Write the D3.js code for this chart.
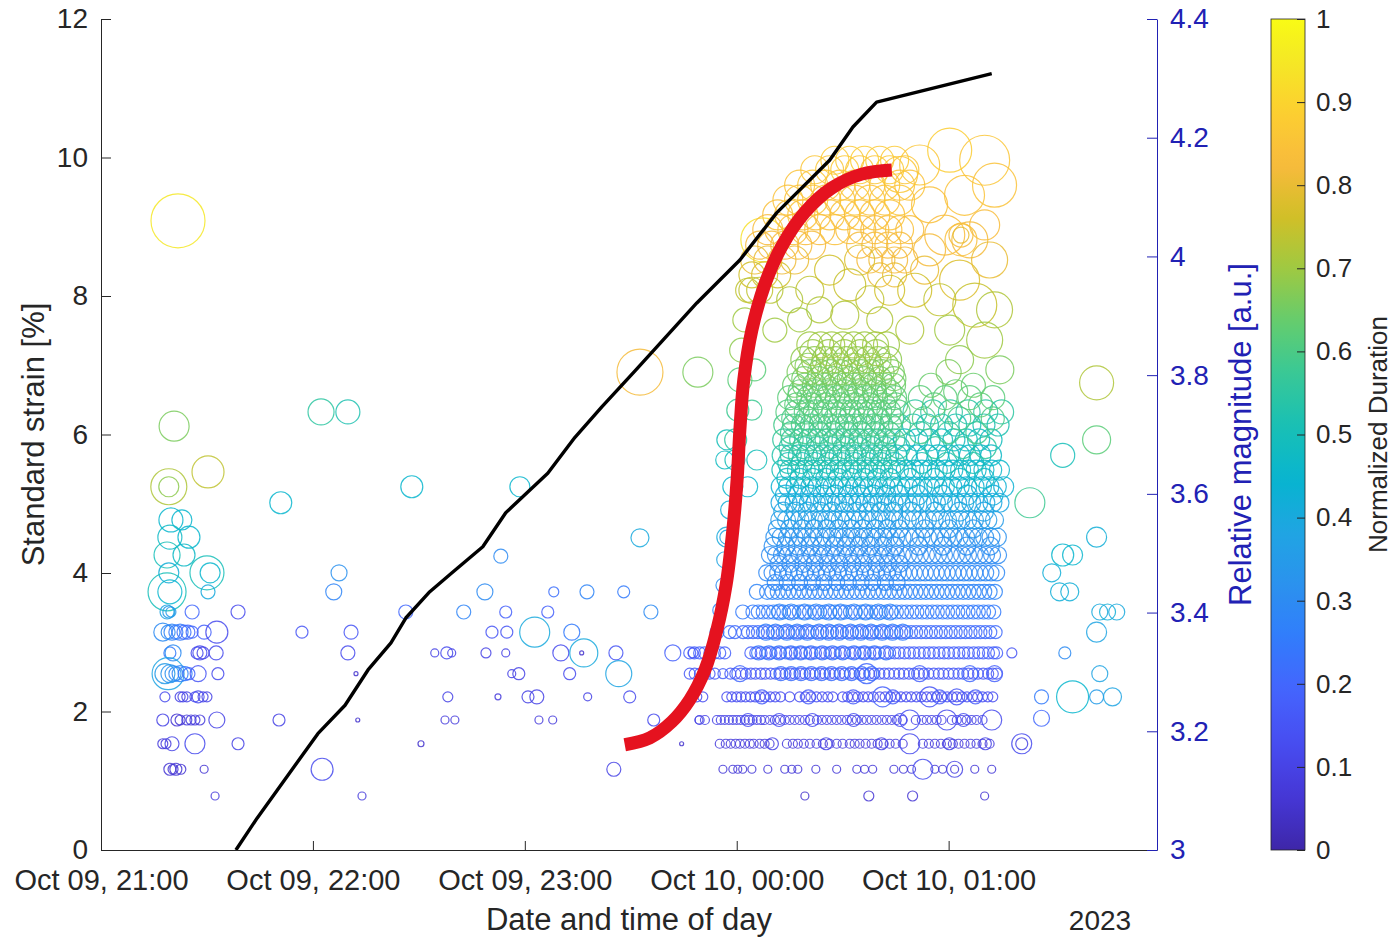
<!DOCTYPE html>
<html>
<head>
<meta charset="utf-8">
<style>
  body { margin: 0; background: #fff; }
  text { font-family: "Liberation Sans", Arial, Helvetica, sans-serif; }
</style>
</head>
<body>
<script src="https://cdn.jsdelivr.net/npm/d3@7"></script>
<script>

// ---- data ----
// black curve: standard strain vs time (minutes after Oct 09 21:00)
var strainMin = [38.2, 44.2, 61.4, 69.1, 75.6, 82.1, 86.3, 93.1, 99.3, 108.1, 114.6, 126.5, 134.2, 141.8, 151.4, 168.7, 180.9, 191.3, 206.3, 212.9, 219.6, 252.2];
var strainVal = [0, 0.46, 1.68, 2.09, 2.60, 2.99, 3.35, 3.73, 4.00, 4.38, 4.87, 5.44, 5.96, 6.40, 6.93, 7.90, 8.52, 9.20, 9.96, 10.44, 10.80, 11.21];

// red annotation stroke (minutes, strain units)
var markMin = [148.3, 155.4, 161.6, 166.7, 171.0, 174.4, 177.0, 178.9, 180.1, 180.9, 182.0, 184.3, 187.9, 193.0, 199.3, 206.9, 215.4, 223.9];
var markVal = [1.52, 1.62, 1.85, 2.17, 2.60, 3.18, 3.83, 4.62, 5.34, 6.07, 6.79, 7.51, 8.16, 8.74, 9.21, 9.56, 9.76, 9.82];

var strainTicks = [0, 2, 4, 6, 8, 10, 12];
var magTicks = [3, 3.2, 3.4, 3.6, 3.8, 4, 4.2, 4.4];
var durTicks = [0, 0.1, 0.2, 0.3, 0.4, 0.5, 0.6, 0.7, 0.8, 0.9, 1];
var hourTicks = [0, 60, 120, 180, 240];

// single events: [minute, magnitude, normalized duration, marker size]
var events = [
  // early cluster ~21:20
  [21.8,4.060,0.95,27],[20.7,3.714,0.66,15],[19.2,3.612,0.72,18],[19.2,3.612,0.68,10],[30.3,3.637,0.74,16],
  [19.8,3.556,0.45,12],[22.9,3.556,0.45,10],[19.5,3.527,0.47,12],[24.9,3.527,0.45,11],
  [18.7,3.497,0.50,13],[23.5,3.497,0.47,11],[19.2,3.467,0.42,10],[30.0,3.467,0.50,17],[30.9,3.467,0.45,10],
  [18.7,3.435,0.50,19],[19.5,3.435,0.45,12],[30.3,3.435,0.40,7],
  [18.7,3.401,0.38,7],[19.2,3.401,0.35,6],[19.8,3.401,0.35,5],[25.8,3.401,0.20,7],[38.8,3.401,0.12,7],
  [17.5,3.367,0.30,9],[19.0,3.367,0.30,7],[20.1,3.367,0.28,8],[21.2,3.367,0.25,7],[22.4,3.367,0.25,8],[23.5,3.367,0.22,7],[24.6,3.367,0.20,7],[25.8,3.367,0.20,6],[29.2,3.367,0.18,7],[32.8,3.367,0.12,11],
  [19.5,3.332,0.25,6],[20.4,3.332,0.30,8],[27.2,3.332,0.12,6],[28.0,3.332,0.12,7],[28.9,3.332,0.10,6],[32.6,3.332,0.12,7],
  [18.1,3.297,0.35,10],[19.0,3.297,0.38,16],[19.5,3.297,0.33,9],[20.4,3.297,0.32,8],[21.2,3.297,0.30,7],[22.4,3.297,0.28,8],[23.8,3.297,0.25,7],[24.9,3.297,0.20,6],[27.5,3.297,0.15,8],[33.1,3.297,0.12,6],
  [18.1,3.258,0.12,5],[22.4,3.258,0.10,5],[23.2,3.258,0.10,5],[24.3,3.258,0.10,5],[26.6,3.258,0.12,5],[27.5,3.258,0.12,6],[28.9,3.258,0.10,5],[30.0,3.258,0.10,5],
  [17.5,3.219,0.10,6],[21.5,3.219,0.06,6],[22.4,3.219,0.06,5],[24.3,3.219,0.08,5],[25.5,3.219,0.08,5],[26.6,3.219,0.08,5],[28.0,3.219,0.08,5],[32.8,3.219,0.10,8],
  [17.5,3.179,0.08,5],[18.4,3.179,0.08,5],[20.1,3.179,0.10,7],[26.6,3.179,0.12,10],[38.8,3.179,0.10,6],
  [19.5,3.136,0.06,6],[20.4,3.136,0.06,5],[21.2,3.136,0.06,6],[22.6,3.136,0.06,5],[29.2,3.136,0.06,4],
  [32.3,3.091,0.08,4],
  // sparse events 21:45 - 23:55
  [50.9,3.585,0.45,11],[62.3,3.738,0.55,13],[69.9,3.738,0.52,12],[88.0,3.612,0.45,11],[118.6,3.612,0.45,10],
  [152.6,3.805,0.82,23],[169.0,3.805,0.66,15],[152.6,3.526,0.40,9],[113.2,3.495,0.30,7],[67.4,3.467,0.32,8],
  [65.9,3.435,0.28,8],[108.7,3.435,0.30,8],[128.2,3.435,0.22,5],[137.6,3.435,0.28,7],[148.0,3.435,0.25,6],
  [86.3,3.401,0.20,7],[102.7,3.401,0.28,7],[114.6,3.401,0.18,6],[126.5,3.401,0.18,6],[155.7,3.401,0.30,7],
  [56.9,3.367,0.15,6],[70.8,3.367,0.15,7],[110.7,3.367,0.15,6],[114.9,3.367,0.15,6],[122.8,3.367,0.40,15],[133.3,3.367,0.25,8],
  [69.9,3.332,0.12,7],[94.5,3.332,0.10,4],[97.9,3.332,0.12,6],[99.3,3.332,0.10,4],[109.0,3.332,0.10,5],[114.6,3.332,0.10,4],
  [130.2,3.332,0.12,8],[136.7,3.332,0.40,14],[136.1,3.332,0.05,2],[145.8,3.332,0.15,7],[161.9,3.332,0.18,8],[167.6,3.332,0.15,5],
  [72.2,3.297,0.05,2],[116.3,3.297,0.10,4],[118.3,3.297,0.10,6],[132.7,3.297,0.12,6],[146.6,3.297,0.38,13],
  [98.2,3.258,0.10,5],[112.4,3.258,0.08,3],[120.9,3.258,0.10,6],[123.4,3.258,0.10,7],[137.8,3.258,0.10,4],[149.7,3.258,0.12,6],
  [50.4,3.219,0.10,6],[72.7,3.219,0.05,2],[97.4,3.219,0.08,4],[100.2,3.219,0.08,4],[124.0,3.219,0.08,4],[127.9,3.219,0.08,4],[156.5,3.219,0.12,6],[169.3,3.219,0.10,4],
  [90.6,3.179,0.05,3],[164.4,3.179,0.05,2],
  [62.6,3.136,0.12,11],[145.2,3.136,0.10,7],
  [73.9,3.091,0.08,4],
  // late sparse events after 01:20
  [281.9,3.787,0.72,17],[281.9,3.691,0.62,14],[272.3,3.665,0.50,12],[263.0,3.585,0.58,15],[281.9,3.527,0.42,10],
  [272.3,3.497,0.45,11],[275.1,3.497,0.45,10],[269.2,3.467,0.42,9],[271.4,3.435,0.42,9],[274.3,3.435,0.42,9],
  [282.8,3.401,0.40,8],[285.0,3.401,0.42,8],[287.6,3.401,0.40,8],[281.9,3.367,0.38,10],[257.9,3.332,0.15,5],[272.9,3.332,0.30,6],
  [282.8,3.297,0.38,8],[266.3,3.258,0.25,7],[275.1,3.258,0.45,16],[281.9,3.258,0.35,7],[286.4,3.258,0.38,9],
  [266.3,3.222,0.20,8],[260.7,3.179,0.12,10],[260.7,3.179,0.10,6],
  // larger events inside the main swarm (lower part)
  [199.3,3.091,0.05,4],[217.4,3.091,0.06,5],[229.8,3.091,0.06,5],[250.2,3.091,0.06,4],
  [232.7,3.136,0.12,10],[241.7,3.136,0.10,8],[241.7,3.136,0.08,4],[229.0,3.179,0.12,10],
  [229.0,3.219,0.14,10],[239.5,3.219,0.12,10],[252.2,3.219,0.12,10],
  [221.3,3.258,0.18,10],[234.6,3.258,0.15,10],[242.3,3.258,0.15,8],
  [180.9,3.297,0.20,8],[176.1,3.297,0.18,5],[216.8,3.297,0.20,10],[231.8,3.297,0.18,8],[246.0,3.297,0.20,8],[253.0,3.297,0.18,8],
  // column along the rising front ~00:00
  [183.1,3.943,0.74,12],[182.3,3.893,0.70,12],[181.4,3.842,0.68,12],[180.9,3.792,0.62,12],[180.3,3.741,0.58,11],
  [179.7,3.691,0.55,11],[179.5,3.657,0.50,10],[178.9,3.612,0.45,10],[178.0,3.573,0.42,9],[177.2,3.527,0.40,10],
  [177.2,3.527,0.38,7],[176.6,3.489,0.38,8],[176.1,3.446,0.30,7],[175.2,3.404,0.28,7],[174.4,3.367,0.25,7],
  [185.1,3.809,0.62,11],[184.3,3.741,0.58,10],[185.7,3.657,0.50,10],[183.1,3.612,0.45,10],[177.2,3.691,0.50,10],[176.6,3.657,0.48,9],
  // orange arc
  [187.4,4.028,0.93,22],
  [184.3,3.943,0.74,13],[186.5,3.943,0.74,13],[189.4,3.943,0.73,13],
  [184.3,3.969,0.76,13],[187.9,3.969,0.77,13],[191.6,3.969,0.76,13],
  [185.1,3.994,0.80,14],[188.8,3.994,0.80,14],[192.8,3.994,0.81,14],[196.4,3.994,0.80,14],
  [186.5,4.019,0.82,14],[189.9,4.019,0.82,14],[193.6,4.019,0.83,14],[197.3,4.019,0.82,14],[201.2,4.019,0.82,14],
  [188.8,4.045,0.83,15],[192.2,4.045,0.83,15],[195.9,4.045,0.84,15],[199.5,4.045,0.83,15],[203.5,4.045,0.83,15],[207.8,4.045,0.84,15],
  [191.6,4.070,0.84,15],[195.0,4.070,0.84,15],[198.7,4.070,0.85,15],[202.4,4.070,0.84,15],[206.3,4.070,0.84,15],[210.6,4.070,0.85,15],[214.8,4.070,0.84,15],[219.1,4.070,0.84,15],[223.3,4.070,0.85,15],
  [194.5,4.095,0.85,15],[197.8,4.095,0.85,15],[201.5,4.095,0.86,15],[205.2,4.095,0.85,15],[209.2,4.095,0.85,15],[213.4,4.095,0.86,15],[217.7,4.095,0.85,15],[221.9,4.095,0.85,15],[226.1,4.095,0.86,15],
  [197.8,4.120,0.85,15],[201.5,4.120,0.86,15],[205.2,4.120,0.85,15],[209.2,4.120,0.85,15],[213.4,4.120,0.86,15],[217.7,4.120,0.85,15],[221.9,4.120,0.86,15],[226.1,4.120,0.85,15],[229.0,4.120,0.85,15],
  [202.1,4.146,0.86,14],[206.3,4.146,0.86,14],[210.6,4.146,0.87,14],[214.8,4.146,0.86,14],[219.1,4.146,0.86,14],[223.3,4.146,0.87,14],[227.6,4.146,0.86,14],
  [207.8,4.162,0.87,14],[212.0,4.162,0.87,14],[216.2,4.162,0.88,14],[220.5,4.162,0.87,14],[224.7,4.162,0.87,14],
  [212.0,4.045,0.84,14],[215.4,4.045,0.84,14],[219.1,4.045,0.83,14],[222.8,4.045,0.84,14],[226.1,4.045,0.84,14],[229.0,4.045,0.83,14],
  [214.8,4.019,0.82,13],[219.1,4.019,0.82,13],[222.8,4.019,0.83,13],[226.1,4.019,0.82,13],
  [217.7,3.994,0.82,13],[221.1,3.994,0.81,13],[224.7,3.994,0.82,13],[227.6,3.994,0.82,13],
  [220.5,3.969,0.80,12],[224.7,3.969,0.80,12],
  // large events top right
  [231.8,4.154,0.86,20],[240.3,4.179,0.88,22],[250.2,4.162,0.86,25],[253.0,4.120,0.85,22],[244.5,4.103,0.85,20],
  [234.6,4.087,0.84,18],[238.9,4.036,0.83,20],[246.0,4.028,0.82,18],[234.6,4.011,0.82,16],[250.2,4.053,0.83,15],
  [243.1,3.960,0.78,20],[251.6,3.994,0.80,18],[237.5,3.927,0.74,16],[247.4,3.918,0.75,22],[253.0,3.910,0.72,18],
  [230.4,3.943,0.76,17],[240.3,3.876,0.70,15],[250.2,3.859,0.70,18],[243.1,3.826,0.68,14],[254.5,3.809,0.66,14],
  [229.0,3.876,0.72,14],[233.2,3.977,0.80,14],[243.5,4.036,0.82,12],[243.5,4.036,0.80,8],[243.5,4.028,0.84,16],[226.1,4.138,0.86,18],
  // yellow-green band
  [200.7,3.943,0.74,14],[206.3,3.977,0.76,15],[212.0,3.952,0.75,16],[217.7,3.927,0.74,14],[223.3,3.943,0.76,15],
  [203.5,3.910,0.72,13],[210.6,3.901,0.72,14],[220.5,3.893,0.72,13],[214.8,3.994,0.78,15],[197.8,3.893,0.70,12],
  [195.0,3.927,0.72,13],[190.8,3.876,0.70,12]
];

// dense bands of events at the same magnitude: [magnitude, duration, size, minutes]
var bands = [
  [3.136, 0.07, 4, [176.1,178.9,180.3,181.7,184.3,188.8,193.6,195.6,197.3,202.4,208.3,214.0,216.2,218.5,224.5,227.2,229.5,236.1,238.3,247.4,252.2]],
  [3.179, 0.08, 4.5, [175.2,176.9,178.3,179.7,180.9,182.3,183.7,184.8,186.5,187.9,189.3,194.2,195.9,197.3,199.0,200.7,202.6,204.4,206.3,208.3,210.0,212.0,213.4,214.8,216.5,218.2,219.9,221.6,223.3,225.0,227.0,232.7,234.4,236.1,237.8,239.5,241.2,242.8,244.5,246.2,247.9,249.6,251.6]],
  [3.179, 0.10, 6, [190.1,205.3,221.0,240.2,250.4]],
  [3.219, 0.10, 4.5, [169.5,171.0,174.4,175.5,176.6,177.8,178.9,180.0,181.1,182.3,183.4,184.5,185.7,186.8,187.9,189.4,190.8,192.2,193.6,195.0,196.4,197.8,199.3,200.7,202.7,204.1,205.5,206.9,208.3,209.7,211.2,212.6,214.0,215.4,216.8,218.2,219.6,221.1,222.5,223.9,225.3,227.0,230.7,232.4,233.8,235.2,236.6,238.0,240.9,242.3,243.7,245.1,246.5,247.9,249.6]],
  [3.219, 0.13, 6.5, [183.2,192.0,201.4,213.1,226.3,244.2]],
  [3.258, 0.13, 5, [168.7,170.4,177.2,178.6,180.0,181.2,182.5,183.9,185.2,186.6,188.0,189.5,190.9,192.4,195.0,197.8,199.4,201.0,202.6,204.2,205.8,207.2,210.0,211.4,212.9,214.3,215.8,217.2,218.7,220.5,222.0,223.6,225.0,226.5,228.0,229.4,230.9,232.3,233.8,235.2,236.6,238.1,239.6,241.0,242.3,243.8,245.2,246.7,248.2,249.6,251.1,252.5]],
  [3.258, 0.17, 7, [187.1,200.3,213.0,224.2,237.4,247.6]],
  [3.297, 0.16, 5.5, [166.7,168.1,169.6,171.0,172.3,173.8,178.2,179.6,181.2,182.6,184.0,185.3,186.8,188.1,189.6,191.0,192.3,193.8,195.2,196.5,198.0,199.4,200.7,202.2,203.6,205.0,206.3,207.8,209.1,210.6,212.0,213.3,214.8,216.2,217.5,219.0,220.4,221.8,223.1,224.6,226.0,227.3,228.8,230.2,231.6,233.0,234.3,235.8,237.2,238.5,240.0,241.4,242.8,244.1,245.6,247.0,248.3,249.8,251.2,252.5,253.6]],
  [3.297, 0.22, 7, [192.5,195.4,198.2,201.1,204.0,206.8,209.7,212.5,215.4,218.2]],
  [3.332, 0.18, 6, [166.7,168.0,169.5,170.9,172.4,173.7,175.2,176.6,184.0,185.4,186.9,188.2,189.7,191.1,192.4,193.9,195.3,196.6,198.1,199.5,200.8,202.3,203.7,205.1,206.4,207.9,209.3,210.6,212.1,213.5,214.9,216.2,217.7,219.1,220.4,221.9,223.3,224.7,226.0,227.5,228.9,230.2,231.7,233.1,234.5,235.8,237.3,238.7,240.0,241.5,242.9,244.3,245.6,247.1,248.5,249.8,251.3,252.7,253.6]],
  [3.332, 0.24, 7, [186.2,189.1,192.0,195.3,198.1,201.0,204.2,207.1,210.0,213.2,216.1,219.0,222.3]],
  [3.367, 0.21, 6.5, [178.0,179.5,181.8,183.2,184.6,186.0,187.4,188.8,190.2,191.6,193.0,194.4,195.8,197.2,198.6,200.0,201.4,202.8,204.2,205.6,207.0,208.4,209.8,211.2,212.6,214.0,215.4,216.8,218.2,219.6,221.0,222.4,223.8,225.2,226.6,228.0,229.4,230.8,232.2,233.6,235.0,236.4,237.8,239.2,240.6,242.0,243.4,244.8,246.2,247.6,249.0,250.4,251.8,253.3]],
  [3.367, 0.26, 8, [188.3,191.0,194.2,197.1,200.0,203.3,206.1,209.0,212.2,215.1,218.0,221.2,224.1,227.0]],
  [3.401, 0.25, 7, [181.7,184.6,186.1,187.5,189.0,190.4,191.9,193.3,194.8,196.2,197.7,199.1,200.6,202.0,203.5,204.9,206.4,207.8,209.3,210.7,212.2,213.6,215.1,216.5,218.0,219.4,220.9,222.3,223.8,225.2,226.7,228.1,229.6,231.0,232.5,233.9,235.4,236.8,238.3,239.7,241.2,242.6,244.1,245.5,247.0,248.4,249.9,251.3,252.8]],
  [3.401, 0.29, 8, [192.1,195.4,199.2,202.5,206.1,209.4,213.2,216.5,220.1,223.4]],
  [3.435, 0.28, 7.5, [185.7,188.6,190.1,191.6,193.1,194.6,196.1,197.6,199.1,200.6,202.1,203.6,205.1,206.6,208.1,209.6,211.1,212.6,214.1,215.6,217.1,218.6,220.1,221.6,223.1,224.6,226.1,227.6,229.1,230.6,232.1,233.6,235.1,236.6,238.1,239.6,241.1,242.6,244.1,245.6,247.1,248.6,250.1,251.6,253.1]],
  [3.451, 0.29, 8, [190.9,194.3,197.8,201.4,204.7,208.3,211.6,215.2,218.5,222.1,225.4]],
  [3.467, 0.29, 8, [188.5,190.0,191.6,193.1,194.7,196.2,197.8,199.3,200.9,202.4,204.0,205.5,207.1,208.6,210.2,211.7,213.3,214.8,216.4,217.9,219.5,221.0,222.6,224.1,225.7,227.2,228.8,230.3,231.9,233.4,235.0,236.5,238.1,239.6,241.2,242.7,244.3,245.8,247.4,248.9,250.5,252.0,253.6]],
  [3.482, 0.30, 8.5, [191.8,195.2,198.9,202.1,205.8,209.0,212.7,215.9,219.6,222.8,226.1]],
  [3.497, 0.30, 8.5, [189.4,191.1,192.8,194.5,196.2,197.9,199.6,201.3,203.0,204.7,206.4,208.1,209.8,211.5,213.2,214.9,216.6,218.3,220.0,221.7,223.4,225.1,226.8,228.5,230.2,231.9,233.6,235.3,237.0,238.7,240.4,242.1,243.8,245.5,247.2,248.9,250.6,252.3,254.0]],
  [3.512, 0.31, 9, [190.3,193.9,197.2,200.8,204.1,207.7,211.0,214.6,217.9,221.5,224.8,231.5,238.4,245.1,251.8]],
  [3.527, 0.32, 9, [190.8,192.6,194.4,196.2,198.0,199.8,201.6,203.4,205.2,207.0,208.8,210.6,212.4,214.2,216.0,217.8,219.6,221.4,223.2,225.0,226.8,228.6,230.4,232.2,234.0,235.8,237.6,239.4,241.2,243.0,244.8,246.6,248.4,250.2,252.0,253.8]],
  [3.541, 0.33, 9, [191.5,195.0,198.6,201.9,205.5,208.8,212.4,215.7,219.3,222.6,226.0,233.2,240.1,247.0]],
  [3.556, 0.35, 9, [192.2,194.1,196.0,197.9,199.8,201.7,203.6,205.5,207.4,209.3,211.2,213.1,215.0,216.9,218.8,220.7,222.6,224.5,226.4,228.3,230.2,232.1,234.0,235.9,237.8,239.7,241.6,243.5,245.4,247.3,249.2,251.1,253.0]],
  [3.570, 0.37, 9.5, [193.2,196.7,200.1,203.6,207.0,210.5,213.9,217.4,220.8,224.3,229.4,236.2,243.1,250.0]],
  [3.585, 0.39, 9.5, [192.4,194.4,196.4,198.4,200.4,202.4,204.4,206.4,208.4,210.4,212.4,214.4,216.4,218.4,220.4,222.4,224.4,226.4,228.4,230.4,232.4,234.4,236.4,238.4,240.4,242.4,244.4,246.4,248.4,250.4,252.4,254.4]],
  [3.598, 0.41, 10, [193.8,197.4,200.9,204.5,208.0,211.6,215.1,218.7,222.2,225.8,231.3,238.2,245.3,252.6]],
  [3.612, 0.43, 10, [192.6,194.7,196.8,198.9,201.0,203.1,205.2,207.3,209.4,211.5,213.6,215.7,217.8,219.9,222.0,224.1,226.2,228.3,230.4,232.5,234.6,236.7,238.8,240.9,243.0,245.1,247.2,249.3,251.4,253.5,255.6]],
  [3.626, 0.47, 10, [194.2,197.9,201.5,205.2,208.8,212.5,216.1,219.8,223.4,229.1,236.0,243.2,250.1]],
  [3.640, 0.50, 10, [192.8,195.0,197.2,199.4,201.6,203.8,206.0,208.2,210.4,212.6,214.8,217.0,219.2,221.4,223.6,225.8]],
  [3.640, 0.46, 10, [228.0,230.2,232.4,234.6,236.8,239.0,241.2,243.4,245.6,247.8,250.0,252.2,254.4]],
  [3.652, 0.51, 10.5, [194.6,198.4,202.1,205.9,209.6,213.4,217.1,220.9,224.6,232.4,239.5,247.0]],
  [3.665, 0.53, 10.5, [193.0,195.3,197.6,199.9,202.2,204.5,206.8,209.1,211.4,213.7,216.0,218.3,220.6,222.9,225.2]],
  [3.665, 0.47, 10.5, [228.0,231.0,234.0,237.0,240.0,243.0,246.0,249.0,252.0]],
  [3.678, 0.55, 11, [195.1,198.9,202.8,206.6,210.5,214.3,218.2,222.0,225.9,236.3,244.0,250.4]],
  [3.691, 0.56, 11, [193.3,195.7,198.1,200.5,202.9,205.3,207.7,210.1,212.5,214.9,217.3,219.7,222.1,224.5]],
  [3.691, 0.49, 11, [227.5,231.0,234.5,238.0,241.5,245.0,248.5,252.0]],
  [3.703, 0.58, 11, [195.5,199.4,203.4,207.3,211.3,215.2,219.2,223.1,232.0,240.0,248.0]],
  [3.716, 0.59, 11, [193.6,196.1,198.6,201.1,203.6,206.1,208.6,211.1,213.6,216.1,218.6,221.1,223.6,226.1]],
  [3.716, 0.52, 11, [230.0,234.0,238.0,242.0,246.0,250.0,254.0]],
  [3.727, 0.60, 11.5, [196.0,200.0,204.0,208.0,212.0,216.0,220.0,224.0,233.0,243.0,252.5]],
  [3.738, 0.61, 12, [194.5,197.1,199.7,202.3,204.9,207.5,210.1,212.7,215.3,217.9,220.5,223.1,225.7]],
  [3.738, 0.55, 12, [230.5,235.5,240.5,245.5,250.5,255.0]],
  [3.750, 0.62, 12, [197.0,201.1,205.2,209.3,213.4,217.5,221.6,225.0,236.0,249.0]],
  [3.762, 0.62, 12, [195.0,197.7,200.4,203.1,205.8,208.5,211.2,213.9,216.6,219.3,222.0,224.7,232.0,239.0,246.0,252.5]],
  [3.772, 0.63, 12, [198.0,202.2,206.4,210.6,214.8,219.0,223.2,242.0]],
  [3.783, 0.64, 12, [196.4,199.2,202.0,204.8,207.6,210.4,213.2,216.0,218.8,221.6,224.4,235.0,247.0]],
  [3.794, 0.65, 12, [199.0,203.3,207.6,211.9,216.2,220.5,224.5]],
  [3.805, 0.66, 12.5, [197.8,200.7,203.6,206.5,209.4,212.3,215.2,218.1,221.0,223.9,240.0]],
  [3.815, 0.67, 13, [200.2,204.6,209.0,213.4,217.8,222.2]],
  [3.826, 0.68, 13, [199.0,202.0,205.0,208.0,211.0,214.0,217.0,220.0,223.0]],
  [3.838, 0.69, 13, [201.5,206.0,210.5,215.0,219.5]],
  [3.851, 0.70, 13, [200.7,203.8,206.9,210.0,213.1,216.2,219.3,222.4]]
];

// MATLAB parula colormap (every 4th of 64 entries)
var parula = [
  [0.2422,0.1504,0.6603],[0.2706,0.2147,0.8364],[0.2813,0.3006,0.9414],[0.2699,0.3892,0.9906],
  [0.1963,0.4847,0.9892],[0.1687,0.5703,0.9359],[0.1248,0.6459,0.8883],[0.0297,0.7082,0.8163],
  [0.0964,0.7500,0.7120],[0.2161,0.7843,0.5923],[0.3909,0.8029,0.4354],[0.6174,0.7876,0.2612],
  [0.8203,0.7498,0.1535],[0.9728,0.7298,0.2394],[0.9892,0.8136,0.1885],[0.9597,0.9135,0.1423],
  [0.9769,0.9839,0.0805]
];

// ---- chart ----
var W = 1392, H = 938;
var L = 101, R = 1157, T = 19, B = 850;
var ink = "#262626", blue = "#2121b4";

var t0 = new Date(2023, 9, 9, 21, 0);
function toDate(min) { return new Date(t0.getTime() + min * 60000); }

var x = d3.scaleTime().domain([t0, toDate(299)]).range([L, R]);
var yL = d3.scaleLinear().domain([0, 12]).range([B, T]);
var yR = d3.scaleLinear().domain([3, 4.4]).range([B, T]);
var rad = d3.scaleLinear().domain([0, 30]).range([0, 30]);

var pos = parula.map(function(d, i) { return i === parula.length - 1 ? 1 : i * 4 / 63; });
var color = d3.scaleLinear().domain(pos)
  .range(parula.map(function(c) { return d3.rgb(c[0] * 255, c[1] * 255, c[2] * 255); }))
  .interpolate(d3.interpolateRgb).clamp(true);

var svg = d3.select("body").append("svg").attr("width", W).attr("height", H);

var defs = svg.append("defs");
defs.append("clipPath").attr("id", "plot")
  .append("rect").attr("x", L).attr("y", T).attr("width", R - L).attr("height", B - T);

var grad = defs.append("linearGradient").attr("id", "cbar")
  .attr("x1", 0).attr("y1", 1).attr("x2", 0).attr("y2", 0);
d3.range(0, 1.0001, 0.02).forEach(function(v) {
  grad.append("stop").attr("offset", (v * 100) + "%").attr("stop-color", color(v));
});

// flatten bands into points
var pts = [];
bands.forEach(function(b) {
  b[3].forEach(function(m) { pts.push([m, b[0], b[1], b[2]]); });
});
pts = pts.concat(events);

svg.append("g").attr("clip-path", "url(#plot)")
  .selectAll("circle").data(pts).enter().append("circle")
  .attr("cx", function(d) { return x(toDate(d[0])); })
  .attr("cy", function(d) { return yR(d[1]); })
  .attr("r", function(d) { return rad(d[3]); })
  .attr("fill", "none")
  .attr("stroke", function(d) { return color(d[2]); })
  .attr("stroke-width", 1.2)
  .attr("stroke-opacity", 0.85);

// strain line
var strain = strainMin.map(function(m, i) { return [m, strainVal[i]]; });
svg.append("path").datum(strain)
  .attr("fill", "none").attr("stroke", "#000").attr("stroke-width", 3.4)
  .attr("stroke-linejoin", "round")
  .attr("d", d3.line().x(function(d) { return x(toDate(d[0])); }).y(function(d) { return yL(d[1]); }));

// red annotation
var mark = markMin.map(function(m, i) { return [m, markVal[i]]; });
svg.append("path").datum(mark)
  .attr("fill", "none").attr("stroke", "#e5121f").attr("stroke-width", 13)
  .attr("stroke-linecap", "butt")
  .attr("d", d3.line().curve(d3.curveCatmullRom)
    .x(function(d) { return x(toDate(d[0])); }).y(function(d) { return yL(d[1]); }));

// axes
var gx = svg.append("g").attr("transform", "translate(0," + B + ")")
  .call(d3.axisBottom(x).tickValues(hourTicks.map(toDate))
    .tickFormat(d3.timeFormat("%b %d, %H:%M")).tickSize(-9).tickSizeOuter(0).tickPadding(19));
var gl = svg.append("g").attr("transform", "translate(" + L + ",0)")
  .call(d3.axisLeft(yL).tickValues(strainTicks).tickSize(-10).tickSizeOuter(0).tickPadding(13));
var gr = svg.append("g").attr("transform", "translate(" + R + ",0)")
  .call(d3.axisRight(yR).tickValues(magTicks).tickFormat(function(d) { return String(+d.toFixed(1)); })
    .tickSize(-10).tickSizeOuter(0).tickPadding(13));

[gx, gl].forEach(function(g) {
  g.selectAll("path, line").attr("stroke", ink).attr("stroke-width", 1);
  g.selectAll("text").attr("fill", ink).style("font-size", "28px");
});
gx.selectAll("text").style("font-size", "29px");
gr.selectAll("path, line").attr("stroke", blue).attr("stroke-width", 1);
gr.selectAll("text").attr("fill", blue).style("font-size", "28px");

// axis titles
svg.append("text").attr("transform", "translate(33," + ((T + B) / 2) + ") rotate(-90)")
  .attr("text-anchor", "middle").attr("dy", "0.35em").attr("fill", ink)
  .style("font-size", "31px").text("Standard strain [%]");
svg.append("text").attr("transform", "translate(1240," + ((T + B) / 2) + ") rotate(-90)")
  .attr("text-anchor", "middle").attr("dy", "0.35em").attr("fill", blue)
  .style("font-size", "31px").text("Relative magnitude [a.u.]");
svg.append("text").attr("x", (L + R) / 2).attr("y", 930)
  .attr("text-anchor", "middle").attr("fill", ink)
  .style("font-size", "31px").text("Date and time of day");
svg.append("text").attr("x", 1100).attr("y", 930)
  .attr("text-anchor", "middle").attr("fill", ink)
  .style("font-size", "28px").text("2023");

// colorbar
var cbX = 1271, cbW = 34;
var yC = d3.scaleLinear().domain([0, 1]).range([B, T]);
svg.append("rect").attr("x", cbX).attr("y", T).attr("width", cbW).attr("height", B - T)
  .attr("fill", "url(#cbar)").attr("stroke", ink).attr("stroke-width", 0.8);
var gc = svg.append("g").attr("transform", "translate(" + (cbX + cbW) + ",0)")
  .call(d3.axisRight(yC).tickValues(durTicks).tickFormat(d3.format("~g"))
    .tickSize(-8).tickSizeOuter(0).tickPadding(11));
gc.select(".domain").remove();
gc.selectAll("line").attr("stroke", ink).attr("stroke-width", 1);
gc.selectAll("text").attr("fill", ink).style("font-size", "26px");
svg.append("text").attr("transform", "translate(1378," + ((T + B) / 2) + ") rotate(-90)")
  .attr("text-anchor", "middle").attr("dy", "0.35em").attr("fill", ink)
  .style("font-size", "26px").text("Normalized Duration");

</script>
</body>
</html>
